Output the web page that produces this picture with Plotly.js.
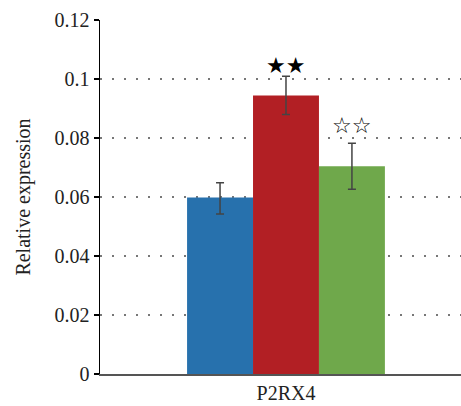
<!DOCTYPE html>
<html><head><meta charset="utf-8">
<script src="https://cdn.plot.ly/plotly-3.0.1.min.js"></script>
<style>html,body{margin:0;padding:0;background:#fff}</style>
</head><body>
<div id="chart" style="width:461px;height:406px"></div>
<script>
var categories = ["P2RX4"];
var groupNames = ["Control", "Model", "Treatment"];
var values = [0.0598, 0.0944, 0.0704];
var errPlus = [0.0050, 0.0065, 0.0078];
var errMinus = [0.0056, 0.0064, 0.0078];
var colors = ["#2771ad", "#b21f24", "#6fa84b"];
var marks = ["", "★★", "☆☆"];
var yTicks = [0, 0.02, 0.04, 0.06, 0.08, 0.1, 0.12];
var yTickText = ["0", "0.02", "0.04", "0.06", "0.08", "0.1", "0.12"];

var markShift = [0, -4, 3];

var traces = groupNames.map(function(name, i){
  return {
    type: "bar", name: name, x: categories, y: [values[i]],
    marker: {color: colors[i]},
    error_y: {type: "data", symmetric: false, array: [errPlus[i]], arrayminus: [errMinus[i]],
              color: "#444", thickness: 1.5, width: 4},
    hoverinfo: "none"
  };
});

var bargap = 0.452;
var groupW = 1 - bargap;
var barW = groupW / groupNames.length;
var annotations = [];
groupNames.forEach(function(n, i){
  if (!marks[i]) return;
  annotations.push({
    x: -groupW/2 + barW*(i+0.5), xref: "x",
    y: values[i] + errPlus[i], yref: "y",
    text: marks[i], showarrow: false, yanchor: "bottom", yshift: markShift[i],
    font: {family: "DejaVu Sans", size: 22, color: "#000"}
  });
});

var layout = {
  width: 461, height: 406,
  margin: {l: 100, r: 0, t: 19.5, b: 32},
  paper_bgcolor: "#fff", plot_bgcolor: "#fff",
  showlegend: false, barmode: "group", bargap: bargap, bargroupgap: 0,
  font: {family: "Liberation Serif", color: "#222"},
  xaxis: {type: "category", range: [-0.5152, 0.4848], showgrid: false,
          showline: true, linecolor: "#555", linewidth: 2, ticks: "",
          tickfont: {size: 20, family: "Liberation Serif", color: "#222"}, ticklen: 0},
  yaxis: {range: [0, 0.12], tickvals: yTicks, ticktext: yTickText,
          showline: true, linecolor: "#000", linewidth: 1.5,
          ticks: "outside", ticklen: 5, tickwidth: 1.5, tickcolor: "#000",
          tickfont: {size: 20, family: "Liberation Serif", color: "#222"},
          showgrid: true, gridcolor: "#777", gridwidth: 1.5, griddash: "1.5px,10.5px",
          zeroline: false,
          title: {text: "Relative expression", font: {size: 20, family: "Liberation Serif", color: "#222"}, standoff: 18}},
  annotations: annotations
};
Plotly.newPlot("chart", traces, layout, {displayModeBar: false, staticPlot: true});
</script>
</body></html>
